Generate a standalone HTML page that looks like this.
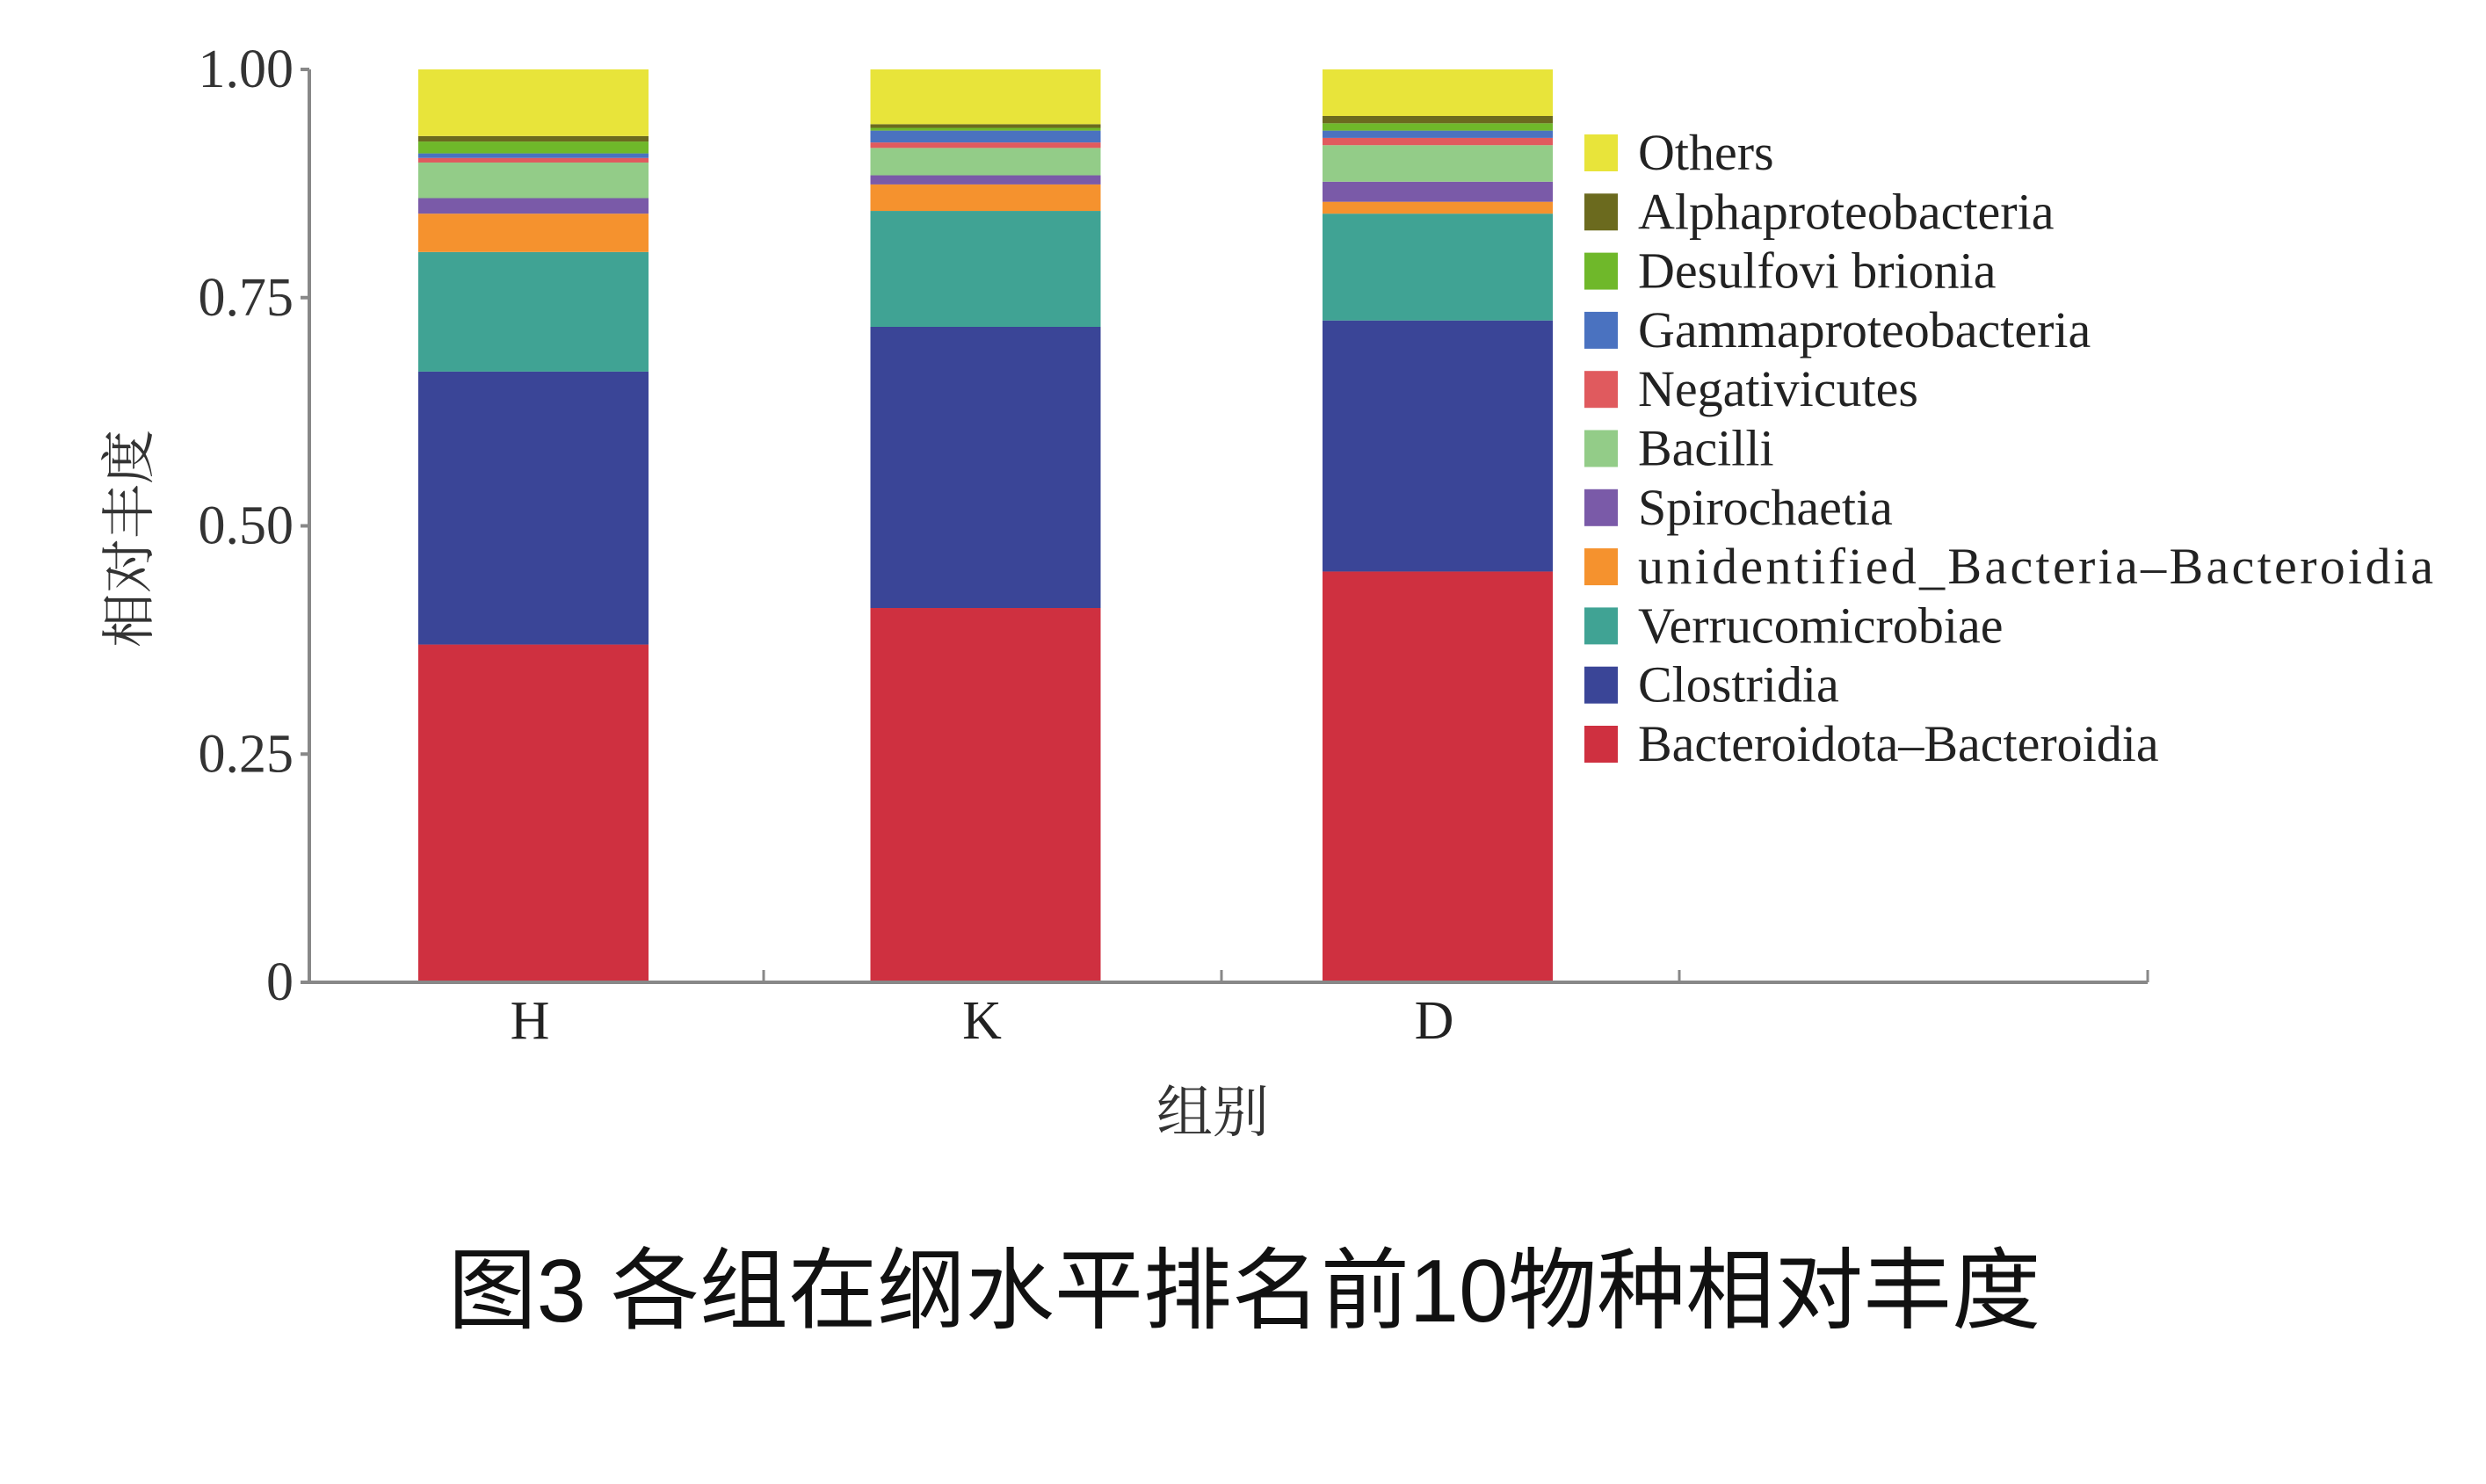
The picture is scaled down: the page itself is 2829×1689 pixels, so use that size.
<!DOCTYPE html>
<html><head><meta charset="utf-8"><style>
html,body{margin:0;padding:0;background:#fff;}
svg{display:block;}
</style></head><body>
<svg id="chart" width="2829" height="1689" viewBox="0 0 2829 1689" xmlns="http://www.w3.org/2000/svg">
<rect width="2829" height="1689" fill="#fff"/>
<g id="bars"></g>
<g id="axes"></g>
<g id="legend"></g>
<text transform="translate(168,613) rotate(-90)" text-anchor="middle" font-family="'Liberation Serif','Noto Serif CJK SC',serif" font-size="62" fill="#333">相对丰度</text>
<text x="1380" y="1288" text-anchor="middle" font-family="'Liberation Serif','Noto Serif CJK SC',serif" font-size="64" fill="#333">组别</text>
<text x="1416" y="1504" text-anchor="middle" font-family="'Liberation Sans','Noto Sans CJK SC',sans-serif" font-size="101" fill="#111">图3 各组在纲水平排名前10物种相对丰度</text>
</svg>
<script>
const categories = ["H", "K", "D"];
const seriesNames = ["Bacteroidota\u2013Bacteroidia","Clostridia","Verrucomicrobiae","unidentified_Bacteria\u2013Bacteroidia","Spirochaetia","Bacilli","Negativicutes","Gammaproteobacteria","Desulfovi brionia","Alphaproteobacteria","Others"];
const bacteroidia = [0.37, 0.41, 0.45];
const clostridia = [0.299, 0.308, 0.275];
const verrucomicrobiae = [0.131, 0.127, 0.117];
const unidentified = [0.042, 0.029, 0.013];
const spirochaetia = [0.017, 0.010, 0.022];
const bacilli = [0.039, 0.030, 0.040];
const negativicutes = [0.005, 0.006, 0.008];
const gammaproteobacteria = [0.005, 0.013, 0.008];
const desulfovibrionia = [0.013, 0.003, 0.008];
const alphaproteobacteria = [0.006, 0.004, 0.008];
const others = [0.073, 0.060, 0.051];
const yTicks = [0, 0.25, 0.5, 0.75, 1.0];
const yTickLabels = ["0", "0.25", "0.50", "0.75", "1.00"];

const seriesValues = [bacteroidia, clostridia, verrucomicrobiae, unidentified, spirochaetia, bacilli, negativicutes, gammaproteobacteria, desulfovibrionia, alphaproteobacteria, others];
const colors = ["#cf3040","#3a4597","#40a394","#f5922e","#7a5aa8","#93cc88","#e05a5e","#4a72c0","#6fb82a","#6b6a1e","#e8e43a"];
const NS = "http://www.w3.org/2000/svg";
const X0 = 352, X1 = 2444, Y0 = 1118, Y1 = 79;
const band = 521, barSpacing = 514.5, firstCenter = 607, barW = 262;
const yScale = v => Y0 - v * (Y0 - Y1);
const xCenter = i => firstCenter + barSpacing * i;
function mk(tag, attrs, parent) { const e = document.createElementNS(NS, tag); for (const k in attrs) e.setAttribute(k, attrs[k]); parent.appendChild(e); return e; }

const gb = document.getElementById("bars");
categories.forEach((c, i) => {
  let cum = 0;
  seriesValues.forEach((arr, s) => {
    const v = arr[i];
    const r = mk("rect", {x: xCenter(i) - barW / 2, y: yScale(cum + v), width: barW, height: yScale(cum) - yScale(cum + v), fill: colors[s]}, gb);
    
    
    cum += v;
  });
});

const ga = document.getElementById("axes");
const yl = mk("line", {x1: X0, y1: Y1, x2: X0, y2: Y0, stroke: "#888", "stroke-width": 4}, ga);


const xl = mk("line", {x1: X0 - 2, y1: Y0, x2: X1, y2: Y0, stroke: "#888", "stroke-width": 4}, ga);


yTicks.forEach((t, k) => {
  const tk = mk("line", {x1: X0 - 10, y1: yScale(t), x2: X0, y2: yScale(t), stroke: "#888", "stroke-width": 4}, ga);
  
  
  const tx = mk("text", {x: X0 - 18, y: yScale(t) + 20, "text-anchor": "end", "font-family": "'Liberation Serif',serif", "font-size": 62, fill: "#333"}, ga);
  tx.textContent = yTickLabels[k];
  
  
});
for (let b = 1; b <= 4; b++) {
  const xb = b < 4 ? X0 + band * b - 4 : X1;
  const tk = mk("line", {x1: xb, y1: Y0, x2: xb, y2: Y0 - 14, stroke: "#888", "stroke-width": 3}, ga);
  
  
}
categories.forEach((c, i) => {
  const tx = mk("text", {x: xCenter(i) - 4, y: Y0 + 64, "text-anchor": "middle", "font-family": "'Liberation Serif',serif", "font-size": 62, fill: "#222"}, ga);
  tx.textContent = c;
  
  
});

const gl = document.getElementById("legend");
const order = seriesNames.map((_, i) => i).reverse();
order.forEach((s, r) => {
  const cy = 174 + r * 67.3;
  const sw = mk("rect", {x: 1803, y: cy - 21, width: 38, height: 42, fill: colors[s]}, gl);
  
  
  const tx = mk("text", {x: 1864, y: cy + 19, "font-family": "'Liberation Serif',serif", "font-size": 58, fill: "#222"}, gl);
  tx.textContent = seriesNames[s];
  
  
  if (seriesNames[s].length > 30) tx.setAttribute('textLength', 905);
});
</script>
</body></html>
